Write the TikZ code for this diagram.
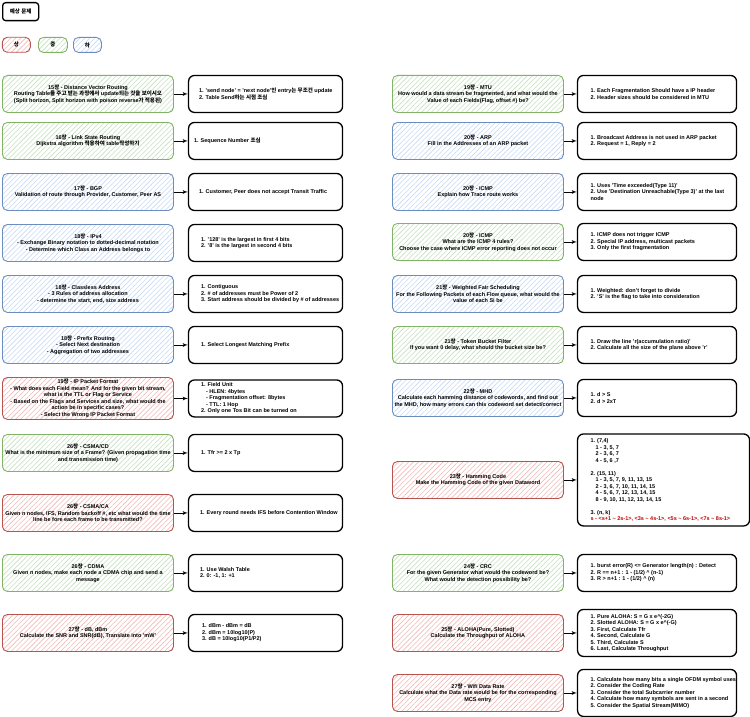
\documentclass[tikz,border=0pt]{standalone}
\usepackage{fontspec}
\setmainfont{Liberation Sans}
\newfontfamily\krfont{Noto Sans CJK KR}
\newcommand{\hg}[1]{{\krfont #1}}
\usetikzlibrary{arrows, positioning, patterns.meta}

\definecolor{hardline}{HTML}{B85450}
\definecolor{hardhatch}{HTML}{F2B8B5}
\definecolor{midline}{HTML}{82B366}
\definecolor{midhatch}{HTML}{C4E0BE}
\definecolor{easyline}{HTML}{6C8EBF}
\definecolor{easyhatch}{HTML}{C6D9F5}
\definecolor{inkred}{HTML}{C00000}

\begin{document}
\begin{tikzpicture}[x=1pt, y=-1pt,
        every node/.style={font=\fontsize{5.5}{6.5}\selectfont\bfseries},
        question/.style={rectangle, rounded corners=5pt, line width=0.9pt, minimum width=171pt, minimum height=37pt, inner sep=0pt, align=center, anchor=north west},
        hard/.style={question, draw=hardline, pattern={Lines[angle=45, distance=3.5pt, line width=0.6pt]}, pattern color=hardhatch},
        mid/.style={question, draw=midline, pattern={Lines[angle=45, distance=3.5pt, line width=0.6pt]}, pattern color=midhatch},
        easy/.style={question, draw=easyline, pattern={Lines[angle=45, distance=3.5pt, line width=0.6pt]}, pattern color=easyhatch},
        answer/.style={rectangle, draw=black, rounded corners=6pt, line width=1.3pt, minimum width=154pt, minimum height=37pt, inner sep=0pt},
        wideanswer/.style={answer, minimum width=159pt},
        anstext/.style={align=left, anchor=west, inner sep=0pt},
        link/.style={draw, line width=0.8pt, -latex'}
    ]
        \useasboundingbox (0,0) rectangle (750,717);

        % Legend
        \node[draw=black, line width=1.3pt, rounded corners=3pt, minimum width=36pt, minimum height=18pt, anchor=north west] (title) at (2,2) {\hg{예상 문제}};
        \node[hard, minimum width=28pt, minimum height=15pt] (lgdhard) at (2,37) {\hg{상}};
        \node[mid, minimum width=29pt, minimum height=15pt] (lgdmid) at (38,37) {\hg{중}};
        \node[easy, minimum width=28pt, minimum height=15pt] (lgdeasy) at (73,37) {\hg{하}};

        % Left column: questions
        \node[mid] (dvr) at (2,75) {15\hg{장} - Distance Vector Routing\\Routing Table\hg{를 주고 받는 과정에서} update\hg{되는 것을 보이시오}\\(Split horizon, Split horizon with poison reverse\hg{가 적용된})};
        \node[mid] (lsr) at (2,122) {16\hg{장} - Link State Routing\\Dijkstra algorithm \hg{적용하여} table\hg{작성하기}};
        \node[easy] (bgp) at (2,173) {17\hg{장} - BGP\\Validation of route through Provider, Customer, Peer AS};
        \node[easy] (ipv4) at (2,224) {18\hg{장} - IPv4\\- Exchange Binary notation to dotted-decimal notation\\- Determine which Class an Address belongs to};
        \node[easy] (cidr) at (2,275) {18\hg{장} - Classless Address\\- 3 Rules of address allocation\\- determine the start, end, size address};
        \node[easy] (prefix) at (2,326) {18\hg{장} - Prefix Routing\\- Select Next destination\\- Aggregation of two addresses};
        \node[hard, minimum height=42pt] (ipfmt) at (2,377) {19\hg{장} - IP Packet Format\\- What does each Field mean? And for the given bit stream,\\what is the TTL or Flag or Service\\- Based on the Flags and Services and size, what would the\\action be in specific cases?\\- Select the Wrong IP Packet Format};
        \node[mid] (csmacd) at (2,434) {26\hg{장} - CSMA/CD\\What is the minimum size of a Frame? (Given propagation time\\and transmission time)};
        \node[hard] (csmaca) at (2,494) {26\hg{장} - CSMA/CA\\Given n nodes, IFS, Random backoff \#, etc what would the time\\line be fore each frame to be transmitted?};
        \node[mid] (cdma) at (2,554) {26\hg{장} - CDMA\\Given n nodes, make each node a CDMA chip and send a\\message};
        \node[hard] (dbm) at (2,614) {27\hg{장} - dB, dBm\\Calculate the SNR and SNR(dB), Translate into 'mW'};

        % Left column: answers
        \node[answer, right=14pt of dvr] (dvra) {};
        \node[anstext] (dvrt) at ([xshift=11pt]dvra.west) {1. 'send node' = 'next node'\hg{인} entry\hg{는 무조건} update\\2. Table Send\hg{하는 시점 조심}};
        \node[answer, right=14pt of lsr] (lsra) {};
        \node[anstext] (lsrt) at ([xshift=6pt]lsra.west) {1. Sequence Number \hg{조심}};
        \node[answer, right=14pt of bgp] (bgpa) {};
        \node[anstext] (bgpt) at ([xshift=11pt]bgpa.west) {1. Customer, Peer does not accept Transit Traffic};
        \node[answer, right=14pt of ipv4] (ipv4a) {};
        \node[anstext] (ipv4t) at ([xshift=13pt]ipv4a.west) {1. '128' is the largest in first 4 bits\\2. '8' is the largest in second 4 bits};
        \node[answer, right=14pt of cidr] (cidra) {};
        \node[anstext] (cidrt) at ([xshift=13pt]cidra.west) {1. Contiguous\\2. \# of addresses must be Power of 2\\3. Start address should be divided by \# of addresses};
        \node[answer, right=14pt of prefix] (prefixa) {};
        \node[anstext] (prefixt) at ([xshift=13pt]prefixa.west) {1. Select Longest Matching Prefix};
        \node[answer, right=14pt of ipfmt] (ipfmta) {};
        \node[anstext] (ipfmtt) at ([xshift=13pt]ipfmta.west) {1. Field Unit\\\hspace*{5pt}- HLEN: 4bytes\\\hspace*{5pt}- Fragmentation offset: 8bytes\\\hspace*{5pt}- TTL: 1 Hop\\2. Only one Tos Bit can be turned on};
        \node[answer, right=14pt of csmacd] (csmacda) {};
        \node[anstext] (csmacdt) at ([xshift=13pt]csmacda.west) {1. Tfr >= 2 x Tp};
        \node[answer, right=14pt of csmaca] (csmacaa) {};
        \node[anstext] (csmacat) at ([xshift=12pt]csmacaa.west) {1. Every round needs IFS before Contention Window};
        \node[answer, right=14pt of cdma] (cdmaa) {};
        \node[anstext] (cdmat) at ([xshift=12pt]cdmaa.west) {1. Use Walsh Table\\2. 0: -1, 1: +1};
        \node[answer, right=14pt of dbm] (dbma) {};
        \node[anstext] (dbmt) at ([xshift=14pt]dbma.west) {1. dBm - dBm = dB\\2. dBm = 10log10(P)\\3. dB = 10log10(P1/P2)};

        \draw[link] (dvr) -- (dvra);
        \draw[link] (lsr) -- (lsra);
        \draw[link] (bgp) -- (bgpa);
        \draw[link] (cidr) -- (cidra);
        \draw[link] (prefix) -- (prefixa);
        \draw[link] (ipfmt) -- (ipfmta);
        \draw[link] (csmacd) -- (csmacda);
        \draw[link] (csmaca) -- (csmacaa);
        \draw[link] (cdma) -- (cdmaa);
        \draw[link] (dbm) -- (dbma);

        % Right column: questions
        \node[mid] (mtu) at (392,75) {19\hg{장} - MTU\\How would a data stream be fragmented, and what would the\\Value of each Fields(Flag, offset \#) be?};
        \node[easy] (arp) at (392,122) {20\hg{장} - ARP\\Fill in the Addresses of an ARP packet};
        \node[easy] (trace) at (392,173) {20\hg{장} - ICMP\\Explain how Trace route works};
        \node[mid] (icmp) at (392,223) {20\hg{장} - ICMP\\What are the ICMP 4 rules?\\Choose the case where ICMP error reporting does not occur};
        \node[easy] (wfq) at (392,275) {21\hg{장} - Weighted Fair Scheduling\\For the Following Packets of each Flow queue, what would the\\value of each Si be};
        \node[mid] (tbf) at (392,326) {21\hg{장} - Token Bucket Filter\\If you want 0 delay, what should the bucket size be?};
        \node[easy] (mhd) at (392,379) {22\hg{장} - MHD\\Calculate each hamming distance of codewords, and find out\\the MHD, how many errors can this codeword set detect/correct};
        \node[hard] (hamming) at (392,461) {23\hg{장} - Hamming Code\\Make the Hamming Code of the given Dataword};
        \node[mid] (crc) at (392,554) {24\hg{장} - CRC\\For the given Generator what would the codeword be?\\What would the detection possibility be?};
        \node[hard] (aloha) at (392,614) {25\hg{장} - ALOHA(Pure, Slotted)\\Calculate the Throughput of ALOHA};
        \node[hard] (wifi) at (392,674) {27\hg{장} - Wifi Data Rate\\Calculate what the Data rate would be for the corresponding\\MCS entry};

        % Right column: answers
        \node[wideanswer, right=13pt of mtu] (mtua) {};
        \node[anstext] (mtut) at ([xshift=13.5pt]mtua.west) {1. Each Fragmentation Should have a IP header\\2. Header sizes should be considered in MTU};
        \node[wideanswer, right=13pt of arp] (arpa) {};
        \node[anstext] (arpt) at ([xshift=13.5pt]arpa.west) {1. Broadcast Address is not used in ARP packet\\2. Request = 1, Reply = 2};
        \node[wideanswer, right=13pt of trace] (tracea) {};
        \node[anstext] (tracet) at ([xshift=13.5pt]tracea.west) {1. Uses 'Time exceeded(Type 11)'\\2. Use 'Destination Unreachable(Type 3)' at the last\\node};
        \node[wideanswer, right=13pt of icmp] (icmpa) {};
        \node[anstext] (icmpt) at ([xshift=13.5pt]icmpa.west) {1. ICMP does not trigger ICMP\\2. Special IP address, multicast packets\\3. Only the first fragmentation};
        \node[wideanswer, right=13pt of wfq] (wfqa) {};
        \node[anstext] (wfqt) at ([xshift=13.5pt]wfqa.west) {1. Weighted: don't forget to divide\\2. 'S' is the flag to take into consideration};
        \node[wideanswer, right=13pt of tbf] (tbfa) {};
        \node[anstext] (tbft) at ([xshift=13.5pt]tbfa.west) {1. Draw the line 'r(accumulation ratio)'\\2. Calculate all the size of the plane above 'r'};
        \node[wideanswer, right=13pt of mhd] (mhda) {};
        \node[anstext] (mhdt) at ([xshift=13.5pt]mhda.west) {1. d > S\\2. d > 2xT};
        \node[answer, minimum width=172pt, minimum height=92pt, right=13pt of hamming] (hamminga) {};
        \node[anstext] (hammingt) at ([xshift=13.5pt]hamminga.west) {1. (7,4)\\\hspace*{5pt}1 - 3, 5, 7\\\hspace*{5pt}2 - 3, 6, 7\\\hspace*{5pt}4 - 5, 6 ,7\\[6.5pt]2. (15, 11)\\\hspace*{5pt}1 - 3, 5, 7, 9, 11, 13, 15\\\hspace*{5pt}2 - 3, 6, 7, 10, 11, 14, 15\\\hspace*{5pt}4 - 5, 6, 7, 12, 13, 14, 15\\\hspace*{5pt}8 - 9, 10, 11, 12, 13, 14, 15\\[6.5pt]3. (n, k)\\\textcolor{inkred}{s - <s+1 \textasciitilde{} 2s-1>, <3s \textasciitilde{} 4s-1>, <5s \textasciitilde{} 6s-1>, <7s \textasciitilde{} 8s-1>}};
        \node[wideanswer, right=13pt of crc] (crca) {};
        \node[anstext] (crct) at ([xshift=13.5pt]crca.west) {1. burst error(R) <= Generator length(n) : Detect\\2. R == n+1 : 1 - (1/2) \textasciicircum{} (n-1)\\3. R > n+1 : 1 - (1/2) \textasciicircum{} (n)};
        \node[wideanswer, minimum height=47pt, right=13pt of aloha] (alohaa) {};
        \node[anstext] (alohat) at ([xshift=13.5pt]alohaa.west) {1. Pure ALOHA: S = G x e\textasciicircum(-2G)\\2. Slotted ALOHA: S = G x e\textasciicircum(-G)\\3. First, Calculate Tfr\\4. Second, Calculate G\\5. Third, Calculate S\\6. Last, Calculate Throughput};
        \node[wideanswer, minimum height=47pt, right=13pt of wifi] (wifia) {};
        \node[anstext] (wifit) at ([xshift=13.5pt]wifia.west) {1. Calculate how many bits a single OFDM symbol uses\\2. Consider the Coding Rate\\3. Consider the total Subcarrier number\\4. Calculate how many symbols are sent in a second\\5. Consider the Spatial Stream(MIMO)};

        \draw[link] (mtu) -- (mtua);
        \draw[link] (arp) -- (arpa);
        \draw[link] (trace) -- (tracea);
        \draw[link] (icmp) -- (icmpa);
        \draw[link] (wfq) -- (wfqa);
        \draw[link] (tbf) -- (tbfa);
        \draw[link] (mhd) -- (mhda);
        \draw[link] (hamming) -- (hamminga);
        \draw[link] (crc) -- (crca);
        \draw[link] (aloha) -- (alohaa);
        \draw[link] (wifi) -- (wifia);
    \end{tikzpicture}
\end{document}
